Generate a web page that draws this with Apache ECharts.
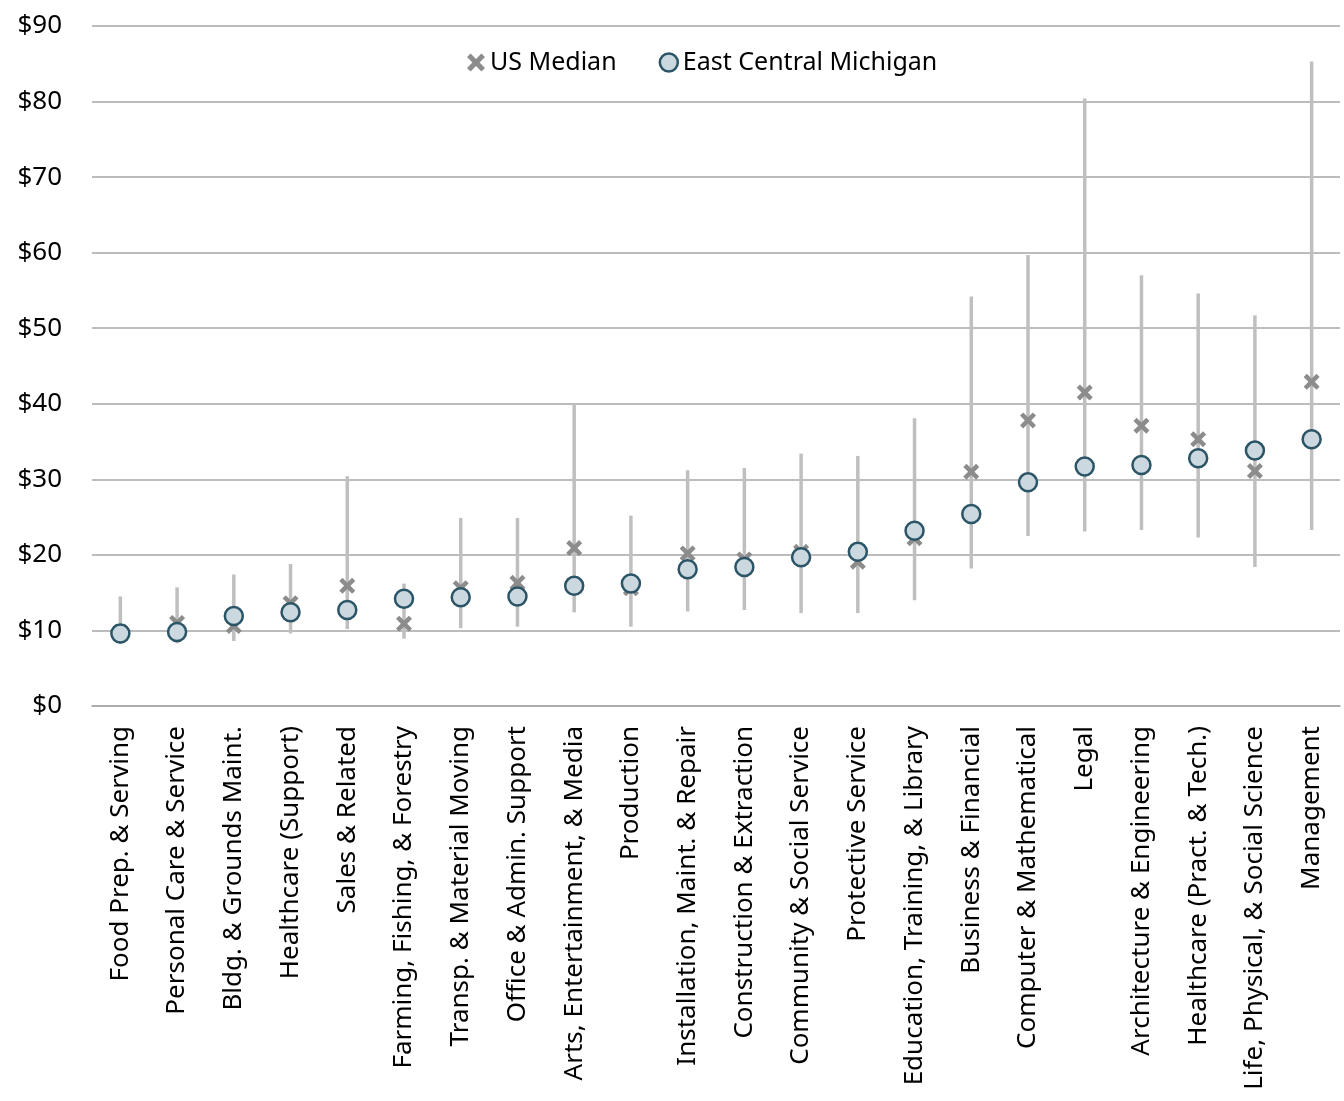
<!DOCTYPE html>
<html>
<head>
<meta charset="utf-8">
<title>Hourly wages by occupation</title>
<script src="https://cdn.jsdelivr.net/npm/echarts@6/dist/echarts.min.js"></script>
<style>
  html, body { margin: 0; padding: 0; background: #fff; }
  #main { width: 1344px; height: 1101px; }
</style>
</head>
<body>
<div id="main"></div>
<script>
// occupation groups, sorted by local median
const categories = [
  'Food Prep. & Serving', 'Personal Care & Service', 'Bldg. & Grounds Maint.',
  'Healthcare (Support)', 'Sales & Related', 'Farming, Fishing, & Forestry',
  'Transp. & Material Moving', 'Office & Admin. Support', 'Arts, Entertainment, & Media',
  'Production', 'Installation, Maint. & Repair', 'Construction & Extraction',
  'Community & Social Service', 'Protective Service', 'Education, Training, & Library',
  'Business & Financial', 'Computer & Mathematical', 'Legal',
  'Architecture & Engineering', 'Healthcare (Pract. & Tech.)',
  'Life, Physical, & Social Science', 'Management'
];

// range of hourly wages (low / high end of the grey bar)
const rangeLow = [8.2, 8.3, 8.6, 9.6, 10.2, 8.9, 10.3, 10.5, 12.4, 10.5, 12.5,
  12.7, 12.3, 12.3, 14.0, 18.2, 22.5, 23.1, 23.3, 22.3, 18.4, 23.3];
const rangeHigh = [14.5, 15.7, 17.4, 18.8, 30.4, 16.2, 24.9, 24.9, 40.0, 25.2, 31.2,
  31.5, 33.4, 33.1, 38.1, 54.2, 59.7, 80.4, 57.0, 54.6, 51.7, 85.3];

const usMedian = [9.8, 11.0, 10.6, 13.6, 15.9, 10.9, 15.6, 16.3, 20.9, 15.6, 20.2,
  19.4, 20.4, 19.1, 22.2, 31.0, 37.8, 41.5, 37.1, 35.3, 31.1, 42.9];
const eastCentral = [9.6, 9.8, 11.9, 12.4, 12.7, 14.2, 14.4, 14.5, 15.9, 16.2, 18.1,
  18.4, 19.7, 20.4, 23.2, 25.4, 29.6, 31.7, 31.9, 32.8, 33.8, 35.3];

const yTicks = [0, 10, 20, 30, 40, 50, 60, 70, 80, 90];

const FONT = '"Noto Sans", Lato, sans-serif';
const crossPath = 'path://M2,0 L5,3 L8,0 L10,2 L7,5 L10,8 L8,10 L5,7 L2,10 L0,8 L3,5 L0,2 Z';

const rangeData = categories.map((c, i) => [i, rangeLow[i], rangeHigh[i]]);

const chart = echarts.init(document.getElementById('main'));
chart.setOption({
  animation: false,
  textStyle: { fontFamily: FONT },
  grid: { left: 92, right: 4, top: 26, bottom: 395 },
  legend: {
    top: 45,
    left: 462,
    itemGap: 42,
    itemWidth: 18,
    itemHeight: 18,
    textStyle: { fontSize: 25, color: '#000', fontFamily: FONT },
    data: [
      { name: 'US Median', icon: crossPath, itemStyle: { color: '#8c8c8c' } },
      { name: 'East Central Michigan', icon: 'circle',
        itemStyle: { color: '#cbd8df', borderColor: '#2b5566', borderWidth: 2.5 } }
    ]
  },
  xAxis: {
    type: 'category',
    data: categories,
    axisLine: { lineStyle: { color: '#a6a6a6', width: 1.5 } },
    axisTick: { show: false },
    axisLabel: {
      rotate: 90,
      interval: 0,
      margin: 20,
      fontSize: 26,
      color: '#000',
      fontFamily: FONT
    }
  },
  yAxis: {
    type: 'value',
    min: yTicks[0],
    max: yTicks[yTicks.length - 1],
    interval: 10,
    axisLine: { show: false },
    axisTick: { show: false },
    splitLine: { lineStyle: { color: '#a6a6a6', width: 1.5 } },
    axisLabel: {
      fontSize: 26,
      color: '#000',
      margin: 30,
      fontFamily: FONT,
      formatter: v => '$' + v
    }
  },
  series: [
    {
      name: 'Range',
      type: 'custom',
      data: rangeData,
      encode: { x: 0, y: [1, 2] },
      z: 1,
      renderItem: (params, api) => {
        const lo = api.coord([api.value(0), api.value(1)]);
        const hi = api.coord([api.value(0), api.value(2)]);
        return {
          type: 'line',
          shape: { x1: lo[0], y1: lo[1], x2: hi[0], y2: hi[1] },
          style: { stroke: '#bfbfbf', lineWidth: 3.5 }
        };
      }
    },
    {
      name: 'US Median',
      type: 'scatter',
      data: usMedian,
      symbol: crossPath,
      symbolSize: 16,
      z: 2,
      itemStyle: { color: '#8c8c8c', opacity: 1 }
    },
    {
      name: 'East Central Michigan',
      type: 'scatter',
      data: eastCentral,
      symbol: 'circle',
      symbolSize: 18,
      z: 3,
      itemStyle: { color: '#cbd8df', borderColor: '#2b5566', borderWidth: 2.5, opacity: 1 }
    }
  ]
});
</script>
</body>
</html>
